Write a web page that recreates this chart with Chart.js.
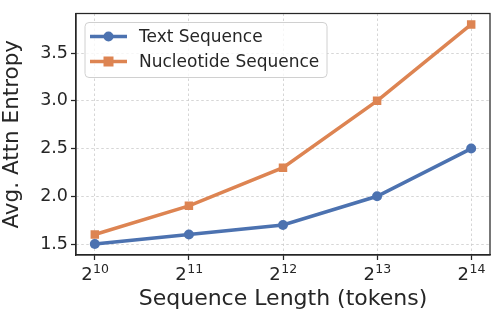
<!DOCTYPE html>
<html><head><meta charset="utf-8">
<script src="https://cdn.jsdelivr.net/npm/chart.js@4/dist/chart.umd.min.js"></script>
<style>html,body{margin:0;padding:0;background:#fff}#wrap{width:499px;height:319px}</style>
</head><body><div id="wrap"><canvas id="c" width="499" height="319"></canvas></div>
<script>
const exponents = [10, 11, 12, 13, 14];
const tickBase = '2';
const tickExponents = ['10', '11', '12', '13', '14'];
const textSeq = [1.5, 1.6, 1.7, 2.0, 2.5];
const nucleotideSeq = [1.6, 1.9, 2.3, 3.0, 3.8];
const yTicks = [1.5, 2.0, 2.5, 3.0, 3.5];
const seriesNames = ['Text Sequence', 'Nucleotide Sequence'];

const FONT = 'DejaVu Sans';
const blue = '#4c72b0', orange = '#dd8452';
const dark = '#262626';

const legendPlugin = {
  id: 'inlegend',
  afterDraw(chart) {
    const ctx = chart.ctx, a = chart.chartArea;
    ctx.save();
    // x tick labels with superscripts
    const xs = chart.scales.x;
    ctx.fillStyle = dark; ctx.textBaseline = 'alphabetic';
    exponents.forEach((e, i) => {
      const px = xs.getPixelForValue(e);
      ctx.font = '18px "' + FONT + '"';
      const wb = ctx.measureText(tickBase).width;
      ctx.font = '12.5px "' + FONT + '"';
      const we = ctx.measureText(tickExponents[i]).width;
      const x0 = px - (wb + we) / 2;
      ctx.font = '18px "' + FONT + '"'; ctx.textAlign = 'left';
      ctx.fillText(tickBase, x0, a.bottom + 25);
      ctx.font = '12.5px "' + FONT + '"';
      ctx.fillText(tickExponents[i], x0 + wb + 0.5, a.bottom + 18);
    });
    // spines
    ctx.strokeStyle = dark; ctx.lineWidth = 1.25;
    ctx.strokeRect(a.left, a.top, a.right - a.left, a.bottom - a.top);
    // legend box
    const x = a.left + 9, y = a.top + 9, w = 242, h = 55;
    ctx.beginPath();
    const r = 4;
    ctx.moveTo(x + r, y); ctx.arcTo(x + w, y, x + w, y + h, r); ctx.arcTo(x + w, y + h, x, y + h, r);
    ctx.arcTo(x, y + h, x, y, r); ctx.arcTo(x, y, x + w, y, r); ctx.closePath();
    ctx.fillStyle = 'rgba(255,255,255,0.8)'; ctx.fill();
    ctx.strokeStyle = '#d0d0d0'; ctx.lineWidth = 1; ctx.stroke();
    chart.data.datasets.forEach((ds, i) => {
      const cy = y + 14 + i * 25;
      ctx.strokeStyle = ds.borderColor; ctx.lineWidth = 3.5; ctx.lineCap = 'butt';
      ctx.beginPath(); ctx.moveTo(x + 5, cy); ctx.lineTo(x + 42, cy); ctx.stroke();
      ctx.fillStyle = ds.borderColor;
      if (ds.pointStyle === 'rect') { ctx.fillRect(x + 23.5 - 5, cy - 5, 10, 10); }
      else { ctx.beginPath(); ctx.arc(x + 23.5, cy, 5, 0, Math.PI * 2); ctx.fill(); }
      ctx.fillStyle = dark; ctx.font = '17px "' + FONT + '"'; ctx.textBaseline = 'middle'; ctx.textAlign = 'left';
      ctx.fillText(ds.label, x + 54, cy + 1);
    });
    ctx.restore();
  }
};

new Chart(document.getElementById('c'), {
  type: 'line',
  data: {
    datasets: [
      { label: seriesNames[0], data: exponents.map((e, i) => ({x: e, y: textSeq[i]})), borderColor: blue, backgroundColor: blue,
        borderWidth: 3.5, pointStyle: 'circle', pointRadius: 5, pointBorderWidth: 0, pointBackgroundColor: blue },
      { label: seriesNames[1], data: exponents.map((e, i) => ({x: e, y: nucleotideSeq[i]})), borderColor: orange, backgroundColor: orange,
        borderWidth: 3.5, pointStyle: 'rect', pointRadius: 6, pointBorderWidth: 0, pointBackgroundColor: orange }
    ]
  },
  options: {
    responsive: false, animation: false,
    layout: { padding: { top: 8, right: 9, left: 0, bottom: 0 } },
    plugins: { legend: { display: false }, tooltip: { enabled: false } },
    scales: {
      x: {
        type: 'linear', min: 9.8, max: 14.2,
        afterBuildTicks: s => { s.ticks = exponents.map(v => ({value: v})); },
        afterFit: s => { s.height = 64; },
        ticks: { display: false },
        grid: { color: '#cccccc', lineWidth: 0.8, tickColor: dark, tickLength: 5, tickWidth: 1.25 },
        border: { color: dark, width: 1.25, dash: [2.5, 2.5] },
        title: { display: true, text: 'Sequence Length (tokens)', color: dark, font: { family: FONT, size: 22 }, padding: { top: 2, bottom: 7 } }
      },
      y: {
        type: 'linear', min: 1.385, max: 3.915,
        afterBuildTicks: s => { s.ticks = yTicks.map(v => ({value: v})); },
        afterFit: s => { s.width = 76; },
        ticks: { color: dark, font: { family: FONT, size: 17.5 }, padding: 3, callback: v => v.toFixed(1) },
        grid: { color: '#cccccc', lineWidth: 0.8, tickColor: dark, tickLength: 5, tickWidth: 1.25 },
        border: { color: dark, width: 1.25, dash: [2.5, 2.5] },
        title: { display: true, text: 'Avg. Attn Entropy', color: dark, font: { family: FONT, size: 21.5 }, padding: { top: 0, bottom: 2 } }
      }
    }
  },
  plugins: [legendPlugin]
});
</script></body></html>
